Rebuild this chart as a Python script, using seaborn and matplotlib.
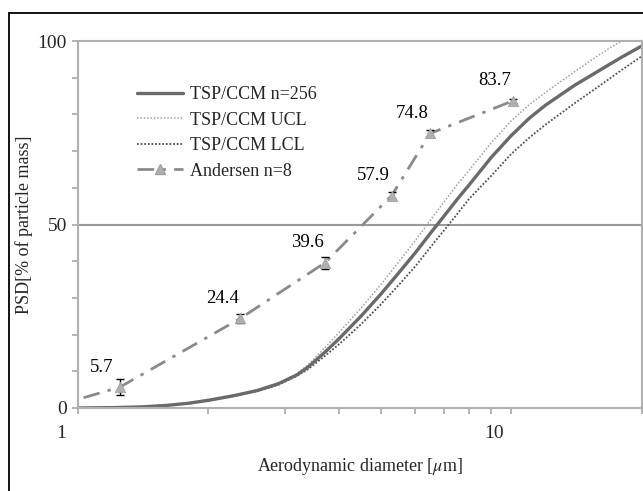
import numpy as np
import pandas as pd
import seaborn as sns
import matplotlib.pyplot as plt
import matplotlib.transforms as mtransforms
from matplotlib.lines import Line2D
from matplotlib.ticker import FixedLocator, NullFormatter

# TSP/CCM curves
diam = [1.0, 1.2, 1.4, 1.6, 1.8, 2.0, 2.3, 2.6, 2.9, 3.2, 3.4, 3.7, 4.0, 4.5, 5.0,
        5.5, 6.0, 6.5, 7.0, 7.5, 8.0, 9.0, 10, 11, 12, 14, 16, 18, 20]
psd_mean = [0, 0.1, 0.3, 0.7, 1.3, 2.1, 3.4, 4.8, 6.6, 9.0, 11.2, 15.0, 18.8, 25.0, 31.0,
            36.8, 42.2, 47.5, 52.3, 56.8, 60.8, 68.3, 74.2, 78.9, 82.5, 87.9, 92.0, 95.6, 98.6]
psd_ucl = [0, 0.1, 0.3, 0.7, 1.3, 2.1, 3.5, 4.9, 6.8, 9.3, 11.8, 16.2, 20.5, 27.2, 33.6,
           39.8, 45.5, 51.1, 56.1, 60.8, 64.8, 72.3, 78.2, 82.6, 86.0, 91.6, 96.3, 100.1, 103.1]
psd_lcl = [0, 0.1, 0.3, 0.7, 1.2, 2.0, 3.3, 4.6, 6.3, 8.7, 10.6, 14.0, 17.3, 22.8, 28.2,
           33.5, 38.5, 43.7, 48.4, 52.8, 57.0, 63.3, 69.2, 73.6, 77.2, 83.0, 87.8, 92.1, 95.8]

# Andersen impactor
and_line_x = [1.03, 1.25, 2.37, 3.72, 5.3, 6.5, 10.1]
and_line_y = [2.8, 5.7, 24.4, 39.6, 57.9, 74.8, 83.7]
and_x = [1.25, 2.37, 3.72, 5.3, 6.5, 10.1]
and_y = [5.7, 24.4, 39.6, 57.9, 74.8, 83.7]
and_err = [2.1, 1.2, 1.6, 1.0, 1.0, 0.5]
and_labels = ['5.7', '24.4', '39.6', '57.9', '74.8', '83.7']

sns.set_theme(style='white')
plt.rcParams['font.family'] = ['Liberation Serif', 'DejaVu Serif']
plt.rcParams['mathtext.fontset'] = 'stix'

fig = plt.figure(figsize=(6.43, 4.91), dpi=100)
ax = fig.add_axes([78 / 643, 1 - 408 / 491, 563.5 / 643, 367 / 491])

df = pd.DataFrame({'d': diam, 'mean': psd_mean, 'ucl': psd_ucl, 'lcl': psd_lcl})
sns.lineplot(data=df, x='d', y='ucl', ax=ax, color='#a0a0a0', lw=1.1,
             linestyle=(0, (1, 1.2)), estimator=None, sort=False)
sns.lineplot(data=df, x='d', y='lcl', ax=ax, color='#505050', lw=1.3,
             linestyle=(0, (1, 1)), estimator=None, sort=False)
sns.lineplot(data=df, x='d', y='mean', ax=ax, color='#6a6a6a', lw=2.4,
             estimator=None, sort=False)

dash_dot = (0, (6, 3, 1.2, 3))
sns.lineplot(x=and_line_x, y=and_line_y, ax=ax, color='#8a8a8a', lw=2,
             linestyle=dash_dot, estimator=None, sort=False)
ax.errorbar(and_x, and_y, yerr=and_err, fmt='none', ecolor='black',
            elinewidth=1, capsize=3, capthick=1, zorder=4)
sns.scatterplot(x=and_x, y=and_y, ax=ax, marker='^', s=55, color='#b0b0b0',
                edgecolor='#a0a0a0', zorder=5)
for xv, yv, lab in zip(and_x, and_y, and_labels):
    ax.annotate(lab, (xv, yv), xytext=(-18, 20), textcoords='offset pixels',
                ha='center', va='center', fontsize=13.5, color='black')

ax.set_xscale('log')
ax.set_xlim(1, 20)
ax.set_ylim(0, 100)
ax.xaxis.set_major_locator(FixedLocator([1, 10]))
ax.xaxis.set_minor_locator(FixedLocator([2, 3, 4, 5, 6, 7, 8, 9, 20]))
ax.xaxis.set_minor_formatter(NullFormatter())
ax.set_xticks([1, 10])
ax.set_xticklabels(['1', '10'])
ax.set_yticks([0, 50, 100])
ax.set_yticklabels(['0', '50', '100'])
ax.yaxis.set_minor_locator(FixedLocator(np.arange(10, 100, 10)))
ax.tick_params(which='both', direction='out', length=4, width=1.2, color='#a8a8a8',
               bottom=True, left=True)
ax.tick_params(axis='x', which='major', pad=8, labelsize=14)
ax.tick_params(axis='y', which='major', pad=4, labelsize=14)
shift = mtransforms.ScaledTranslation(-17 / 100, 0, fig.dpi_scale_trans)
for lab in ax.get_xticklabels():
    lab.set_transform(lab.get_transform() + shift)

ax.axhline(50, color='#9a9a9a', lw=1.5, zorder=1)
for sp in ax.spines.values():
    sp.set_color('#b0b0b0')
    sp.set_linewidth(1.5)

ax.set_xlabel(r'Aerodynamic diameter [$\mu$m]', fontsize=13, labelpad=10)
ax.set_ylabel('PSD[% of particle mass]', fontsize=13, labelpad=3)

handles = [
    Line2D([], [], color='#6a6a6a', lw=2.4),
    Line2D([], [], color='#a0a0a0', lw=1.1, linestyle=(0, (1, 1.2))),
    Line2D([], [], color='#505050', lw=1.3, linestyle=(0, (1, 1))),
    Line2D([], [], color='#8a8a8a', lw=2, linestyle=dash_dot, marker='^',
           markersize=7, markerfacecolor='#b0b0b0', markeredgecolor='#a0a0a0'),
]
labels = ['TSP/CCM n=256', 'TSP/CCM UCL', 'TSP/CCM LCL', 'Andersen n=8']
ax.legend(handles, labels, loc='upper left', bbox_to_anchor=(0.105, 0.877),
          frameon=False, fontsize=13, handlelength=2.55, handletextpad=0.4,
          labelspacing=0.47, borderpad=0, borderaxespad=0, numpoints=1)

# outer frame of the original figure
fig.add_artist(Line2D([8.5 / 643, 1], [1 - 12.5 / 491] * 2, color='black', lw=1.3,
                      transform=fig.transFigure))
fig.add_artist(Line2D([8.5 / 643] * 2, [0, 1 - 12.5 / 491], color='black', lw=1.3,
                      transform=fig.transFigure))

fig.savefig('out.png', dpi=100)
